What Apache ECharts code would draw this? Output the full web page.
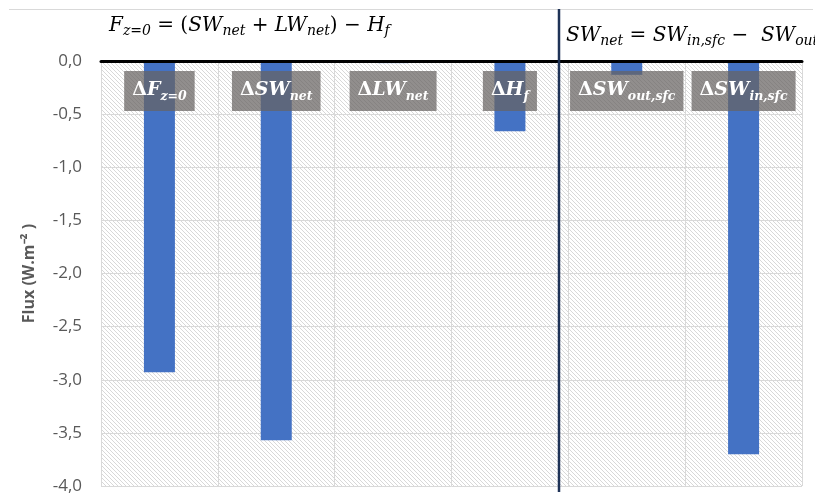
<!DOCTYPE html>
<html>
<head>
<meta charset="utf-8">
<script src="https://cdn.jsdelivr.net/npm/echarts@6/dist/echarts.min.js"></script>
<style>
  html, body { margin: 0; padding: 0; background: #fff; }
  #chart { width: 815px; height: 502px; }
</style>
</head>
<body>
<div id="chart"></div>
<script>
// Flux anomaly components (W.m-2)
const categories = ['ΔF_z=0', 'ΔSW_net', 'ΔLW_net', 'ΔH_f', 'ΔSW_out,sfc', 'ΔSW_in,sfc'];
const fluxValues = [-2.93, -3.57, -0.02, -0.66, -0.13, -3.70];
const yTicks = [0, -0.5, -1.0, -1.5, -2.0, -2.5, -3.0, -3.5, -4.0];

// light diagonal hatch used as plot-area fill
function hatchPattern() {
  const c = document.createElement('canvas');
  c.width = 4; c.height = 4;
  const ctx = c.getContext('2d');
  ctx.fillStyle = '#ffffff';
  ctx.fillRect(0, 0, 4, 4);
  ctx.fillStyle = '#d8d8d8';
  for (let i = 0; i < 4; i++) ctx.fillRect(i, i, 1, 1);
  return { image: c, repeat: 'repeat' };
}

const mathFont = 'DejaVu Serif';
const eqRich = {
  m: { fontFamily: mathFont, fontStyle: 'italic', fontSize: 20, color: '#111' },
  r: { fontFamily: mathFont, fontSize: 20, color: '#111' },
  s: { fontFamily: mathFont, fontStyle: 'italic', fontSize: 14, color: '#111', padding: [11, 0, 0, 0] }
};

const chart = echarts.init(document.getElementById('chart'));
chart.setOption({
  backgroundColor: '#ffffff',
  animation: false,
  grid: {
    left: 101, right: 13, top: 61, bottom: 16,
    show: true, borderWidth: 0,
    backgroundColor: hatchPattern()
  },
  xAxis: {
    type: 'category',
    position: 'top',
    data: categories,
    z: 5,
    axisLine: { show: true, onZero: false, lineStyle: { color: '#000', width: 3 } },
    axisTick: { show: false },
    splitLine: { show: true, lineStyle: { color: '#d9d9d9', width: 1 } },
    axisLabel: {
      inside: true,
      margin: 10,
      interval: 0,
      backgroundColor: 'rgba(102,99,97,0.72)',
      padding: [7, 8, 8, 8],
      formatter: function (v) {
        const parts = v.split('_');
        return '{d|Δ}{m|' + parts[0].slice(1) + '}{s|' + parts[1] + '}';
      },
      rich: {
        d: { fontFamily: mathFont, fontWeight: 'bold', fontSize: 19, color: '#fff' },
        m: { fontFamily: mathFont, fontWeight: 'bold', fontStyle: 'italic', fontSize: 19, color: '#fff' },
        s: { fontFamily: mathFont, fontWeight: 'bold', fontStyle: 'italic', fontSize: 12.5, color: '#fff', padding: [12, 0, 0, 0] }
      }
    }
  },
  yAxis: {
    type: 'value',
    min: -4,
    max: 0,
    interval: 0.5,
    name: 'Flux (W.m⁻² )',
    nameLocation: 'middle',
    nameRotate: 90,
    nameGap: 64,
    nameTextStyle: { fontFamily: 'Open Sans', fontWeight: 'bold', fontSize: 16, color: '#595959' },
    axisLine: { show: false },
    axisTick: { show: false },
    splitLine: { show: true, lineStyle: { color: '#d9d9d9', width: 1 } },
    axisLabel: {
      margin: 19,
      fontFamily: 'Open Sans',
      fontSize: 17,
      color: '#595959',
      formatter: function (v) {
        const t = yTicks.find(function (k) { return Math.abs(k - v) < 1e-9; });
        return (t === undefined ? v : t).toFixed(1).replace('.', ',');
      }
    }
  },
  series: [{
    type: 'bar',
    data: fluxValues,
    barWidth: 31,
    itemStyle: { color: '#4472c4' },
    z: 2
  }],
  graphic: [
    // chart frame top edge
    { type: 'line', shape: { x1: 9, y1: 9.5, x2: 813, y2: 9.5 }, style: { stroke: '#d9d9d9', lineWidth: 1 }, z: 1 },
    // divider between the two groups
    { type: 'line', shape: { x1: 559, y1: 9, x2: 559, y2: 492 }, style: { stroke: '#1f3357', lineWidth: 2.5 }, z: 20 },
    {
      type: 'text', left: 109, top: 16, z: 20,
      style: {
        text: '{m|F}{s|z=0}{r| = (}{m|SW}{s|net}{r| + }{m|LW}{s|net}{r|) − }{m|H}{s|f}',
        rich: eqRich
      }
    },
    {
      type: 'text', left: 566, top: 26, z: 20,
      style: {
        text: '{m|SW}{s|net}{r| = }{m|SW}{s|in,sfc}{r| −  }{m|SW}{s|out,sfc}',
        rich: eqRich
      }
    }
  ]
});
</script>
</body>
</html>
